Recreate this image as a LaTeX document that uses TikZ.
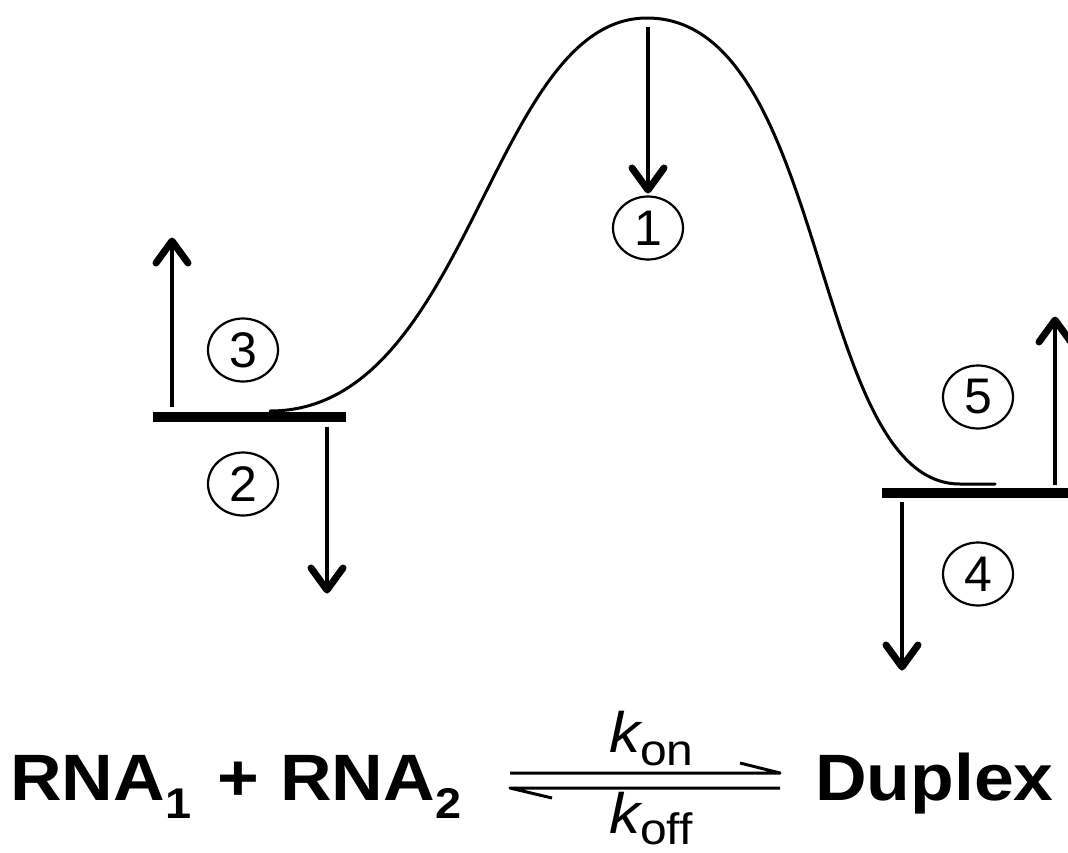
\documentclass[tikz,border=0pt]{standalone}
\usepackage{fontspec}
\setmainfont{Liberation Sans}
\usetikzlibrary{calc,shapes.geometric}
\newcommand\eqbig{\fontsize{65.6}{70}\selectfont\bfseries}
\newcommand\eqsub{\fontsize{43}{43}\selectfont\bfseries}
\newcommand\kbig{\fontsize{57}{60}\selectfont\itshape}
\newcommand\ksub{\fontsize{44}{44}\selectfont\upshape}
\begin{document}
\begin{tikzpicture}[x=1pt,y=-1pt,
  curve/.style={line width=3pt,line cap=round},
  levelbar/.style={line width=10pt},
  shaft/.style={line width=4.2pt},
  headv/.style={line width=7pt,line cap=round,line join=round},
  circnum/.style={draw,ellipse,line width=2.2pt,minimum width=70pt,minimum height=63pt,inner sep=0pt,
    font=\fontsize{50}{50}\selectfont},
  eqtxt/.style={inner sep=0pt,anchor=base west},
  harp/.style={line width=3pt,line join=round,line cap=butt}]
\useasboundingbox (0,0) rectangle (1068,852);
% energy levels
\coordinate (L1) at (153,417); \coordinate (L2) at (346,417);
\coordinate (R1) at (882,493); \coordinate (R2) at (1068,493);
\draw[levelbar] (L1) -- (L2);
\draw[levelbar] (R1) -- (R2);
% energy curve
\coordinate (cs) at (270,411);
\coordinate (pk) at (647,18);
\coordinate (cb) at (960,484);
\coordinate (ce) at (995,484);
\draw[curve] (cs) .. controls (470,411) and (490,18) .. (pk)
  .. controls (830,18) and (810,484) .. (cb) -- (ce);
% circled numbers
\node[circnum] (c1) at (648,228) {1};
\node[circnum] (c2) at (243,484) {2};
\node[circnum] (c3) at (243,350) {3};
\node[circnum] (c4) at (978,574) {4};
\node[circnum] (c5) at (978,397) {5};
% arrows (shaft + open chevron head)
\coordinate (a1s) at (648,27);  \coordinate (a1e) at (648,190);
\coordinate (a2s) at (327,427); \coordinate (a2e) at (327,590);
\coordinate (a3s) at (172,407); \coordinate (a3e) at (172,241);
\coordinate (a4s) at (902,502); \coordinate (a4e) at (902,667);
\coordinate (a5s) at (1055,485); \coordinate (a5e) at (1055,320);
\foreach \s/\e/\d in {a1s/a1e/-1,a2s/a2e/-1,a4s/a4e/-1,a3s/a3e/1,a5s/a5e/1}{
  \draw[shaft] (\s) -- (\e);
  \draw[headv] ($(\e)+(-16,\d*22)$) -- (\e) -- ($(\e)+(16,\d*22)$);
}
% equation
\node[eqtxt] (rna1) at (10,800) {\scalebox{1.09}[1]{\eqbig RNA\raisebox{-18pt}{\eqsub 1}}};
\node[inner sep=0pt,anchor=base] (plus) at (238.5,800) {\scalebox{1.09}[1]{\eqbig +}};
\node[eqtxt] (rna2) at (280,800) {\scalebox{1.09}[1]{\eqbig RNA\raisebox{-18pt}{\eqsub 2}}};
\node[eqtxt] (dup) at (815,800) {\scalebox{1.09}[1]{\eqbig Duplex}};
\node[eqtxt] (kon) at (609,752) {\scalebox{1.09}[1]{\kbig k\raisebox{-13pt}{\ksub on}}};
\node[eqtxt] (koff) at (609,833) {\scalebox{1.09}[1]{\kbig k\raisebox{-11pt}{\ksub off}}};
% equilibrium harpoons
\coordinate (hf1) at (510,773); \coordinate (hf2) at (780,773); \coordinate (hfb) at (740,763);
\coordinate (hb1) at (780,788); \coordinate (hb2) at (510,788); \coordinate (hbb) at (552,798);
\draw[harp] (hf1) -- (hf2) -- (hfb);
\draw[harp] (hb1) -- (hb2) -- (hbb);
\end{tikzpicture}
\end{document}
